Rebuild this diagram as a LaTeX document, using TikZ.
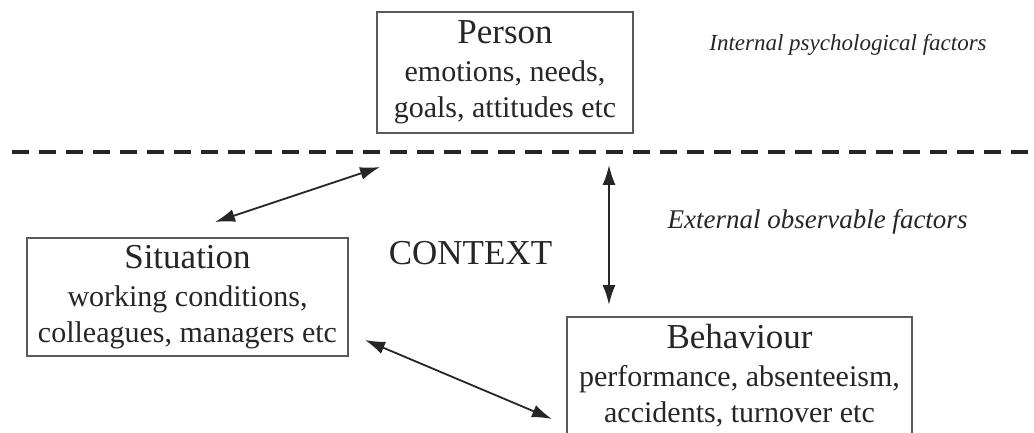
\documentclass[tikz,border=0pt]{standalone}
\usepackage{fontspec}
\setmainfont{Liberation Serif}
\usetikzlibrary{arrows.meta}
\definecolor{ink}{HTML}{262626}
\definecolor{frame}{HTML}{5A5A5A}
\newcommand{\boxhead}[1]{{\fontsize{17.5}{21}\selectfont #1}}

\begin{document}
\begin{tikzpicture}
  [x=0.5pt,y=-0.5pt,every node/.style={text=ink},
   factor/.style={draw=frame,line width=0.7pt,align=center,inner sep=0pt,
     font=\fontsize{15}{18}\selectfont},
   link/.style={ink,line width=0.9pt,{Latex[length=10pt,width=6.5pt]}-{Latex[length=10pt,width=6.5pt]}},
   divider/.style={ink,line width=2pt,dash pattern=on 8.5pt off 5pt}]
  \clip (0,0) rectangle (1034,433);

  \node (person) [factor,minimum width=128pt,minimum height=60.5pt] at (505,72.5)
    {\boxhead{Person}\\[1pt]emotions, needs,\\goals, attitudes etc};
  \node (situation) [factor,minimum width=160.5pt,minimum height=59pt] at (187.5,297)
    {\boxhead{Situation}\\[1pt]working conditions,\\colleagues, managers etc};
  \node (behaviour) [factor,minimum width=172.5pt,minimum height=59pt] at (739.5,376)
    {\boxhead{Behaviour}\\[1pt]performance, absenteeism,\\accidents, turnover etc};

  \node (context) [font=\fontsize{17.5}{21}\selectfont] at (470.5,253) {CONTEXT};
  \node (internal) [font=\itshape\fontsize{11.5}{14}\selectfont] at (848,45) {Internal psychological factors};
  \node (external) [font=\itshape\fontsize{13.5}{16}\selectfont] at (817.5,222) {External observable factors};

  % dividing line
  \coordinate (divL) at (12,152);
  \coordinate (divR) at (1034,152);
  \draw[divider] (divL) -- (divR);

  \coordinate (s1) at (215,222);
  \coordinate (p1) at (380,167);
  \coordinate (p2) at (609,165);
  \coordinate (b2) at (609,305);
  \coordinate (s3) at (365,340);
  \coordinate (b3) at (552,419);

  \foreach \from/\to in {s1/p1,p2/b2,s3/b3}
    \draw[link] (\from) -- (\to);

\end{tikzpicture}
\end{document}
